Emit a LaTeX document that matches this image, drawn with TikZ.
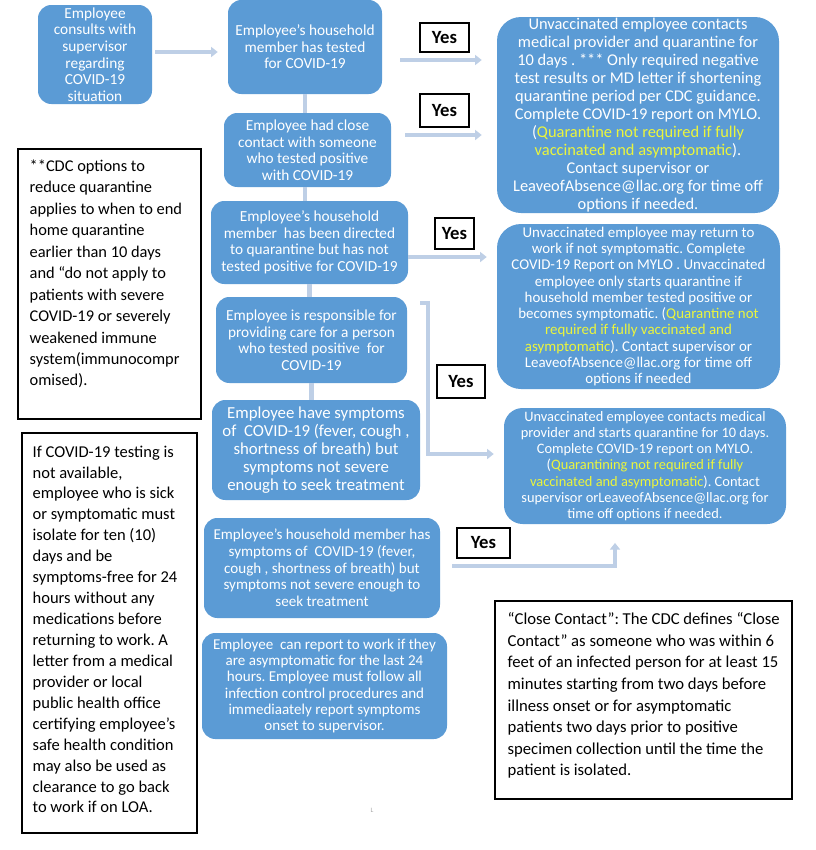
\documentclass[tikz,border=0pt]{standalone}
\usepackage{fontspec}
\setmainfont{Carlito}
\usetikzlibrary{arrows.meta,calc}
\definecolor{boxblue}{RGB}{91,155,213}
\definecolor{connc}{RGB}{190,207,230}
\definecolor{qyellow}{RGB}{235,245,60}
\newcommand{\yl}[1]{\textcolor{qyellow}{#1}}
\frenchspacing
\begin{document}
\begin{tikzpicture}[x=0.75pt,y=-0.75pt,
  sz/.style 2 args={minimum width=#1*0.75pt, minimum height=#2*0.75pt},
  bluebox/.style={fill=boxblue, draw=none, rounded corners=10pt, inner sep=0pt, text=white, align=center, font=\fontsize{11.5}{12.4}\selectfont},
  bigblue/.style={bluebox, rounded corners=18pt},
  yesbox/.style={draw=black, line width=1pt, fill=white, inner sep=0pt, font=\bfseries\fontsize{14}{16}\selectfont},
  notebox/.style={draw=black, line width=0.9pt, inner sep=0pt},
  notetext/.style={anchor=north west, inner sep=0pt, align=left},
  conn/.style={draw=connc, line width=3.6pt},
  arr/.style={conn, -{Triangle[length=5pt,width=7.5pt]}},
  tinymark/.style={text=black!35, inner sep=0pt, font=\fontsize{5}{6}\selectfont}
]
\useasboundingbox (0,0) rectangle (815,850);
\fill[white] (0,0) rectangle (815,850);

% left-column flow boxes
\node[bluebox, sz={114}{99}] (A) at (95,54.5) {Employee\\consults with\\supervisor\\regarding\\COVID-19\\situation};
\node[bluebox, sz={154}{94}] (B) at (305,47) {Employee's household\\member has tested\\for COVID-19};
\node[bluebox, sz={167}{74}] (C) at (307.5,150) {Employee had close\\contact with someone\\who tested positive\\with COVID-19};
\node[bluebox, sz={197}{83}] (D) at (309.5,242.5) {Employee's household\\member\ \ has been directed\\to quarantine but has not\\tested positive for COVID-19};
\node[bluebox, sz={191}{86}] (E) at (311.5,340) {Employee is responsible for\\providing care for a person\\who tested positive\ \ for\\COVID-19};
\node[bluebox, sz={208}{100}, font=\fontsize{12.6}{13.6}\selectfont] (F) at (316,450) {Employee have symptoms\\of\ \ COVID-19 (fever, cough ,\\shortness of breath) but\\symptoms not severe\\enough to seek treatment};
\node[bluebox, sz={236}{100}, font=\fontsize{11.3}{12.5}\selectfont] (G) at (322,568) {Employee's household member has\\symptoms of\ \ COVID-19 (fever,\\cough , shortness of breath) but\\symptoms not severe enough to\\seek treatment};
\node[bluebox, sz={245}{106}, font=\fontsize{11.3}{12.2}\selectfont] (H) at (324.5,686) {Employee\ \ can report to work if they\\are asymptomatic for the last 24\\hours. Employee must follow all\\infection control procedures and\\immediaately report symptoms\\onset to supervisor.};

% right-column outcome boxes
\node[bigblue, sz={282}{196}, font=\fontsize{12.3}{13.5}\selectfont] (R1) at (638,115) {Unvaccinated employee contacts\\medical provider and quarantine for\\10 days . *** Only required negative\\test results or MD letter if shortening\\quarantine period per CDC guidance.\\Complete COVID-19 report on MYLO.\\(\yl{Quarantine not required if fully}\\\yl{vaccinated and asymptomatic}).\\Contact supervisor or\\LeaveofAbsence@llac.org for time off\\options if needed.};
\node[bigblue, sz={283}{165}, font=\fontsize{11.2}{12.2}\selectfont] (R2) at (638.5,306.5) {Unvaccinated employee may return to\\work if not symptomatic. Complete\\COVID-19 Report on MYLO . Unvaccinated\\employee only starts quarantine if\\household member tested positive or\\becomes symptomatic. (\yl{Quarantine not}\\\yl{required if fully vaccinated and}\\\yl{asymptomatic}). Contact supervisor or\\LeaveofAbsence@llac.org for time off\\options if needed};
\node[bigblue, rounded corners=14pt, sz={282}{116}, font=\fontsize{10.8}{12.2}\selectfont] (R3) at (645,466) {Unvaccinated employee contacts medical\\provider and starts quarantine for 10 days.\\Complete COVID-19 report on MYLO.\\(\yl{Quarantining not required if fully}\\\yl{vaccinated and asymptomatic}). Contact\\supervisor orLeaveofAbsence@llac.org for\\time off options if needed.};

% Yes labels
\node[yesbox, sz={49}{29}] (Y1) at (444.5,37.5) {Yes};
\node[yesbox, sz={49}{33}] (Y2) at (444.5,110.5) {Yes};
\node[yesbox, sz={39}{31}] (Y3) at (454.5,233.5) {Yes};
\node[yesbox, sz={48}{33}] (Y4) at (461,381.5) {Yes};
\node[yesbox, sz={53}{30}] (Y5) at (483.5,543) {Yes};

% note boxes
\node[notebox, sz={183}{270}] (N1) at (109.5,284) {};
\node[notetext, font=\fontsize{12.3}{16.1}\selectfont] (N1t) at ([shift={(12,11)}]N1.north west) {**CDC options to\\reduce quarantine\\applies to when to end\\home quarantine\\earlier than 10 days\\and “do not apply to\\patients with severe\\COVID-19 or severely\\weakened immune\\system(immunocompr\\omised).};
\node[notebox, sz={175}{400}] (N2) at (109.5,633) {};
\node[notetext, font=\fontsize{12.4}{15.7}\selectfont] (N2t) at ([shift={(11,13)}]N2.north west) {If COVID-19 testing is\\not available,\\employee who is sick\\or symptomatic must\\isolate for ten (10)\\days and be\\symptoms-free for 24\\hours without any\\medications before\\returning to work. A\\letter from a medical\\provider or local\\public health office\\certifying employee’s\\safe health condition\\may also be used as\\clearance to go back\\to work if on LOA.};
\node[notebox, sz={297}{198}] (N3) at (643.5,700) {};
\node[notetext, font=\fontsize{12.5}{16.2}\selectfont] (N3t) at ([shift={(13,12)}]N3.north west) {“Close Contact”: The CDC defines “Close\\Contact” as someone who was within 6\\feet of an infected person for at least 15\\minutes starting from two days before\\illness onset or for asymptomatic\\patients two days prior to positive\\specimen collection until the time the\\patient is isolated.};

\node[tinymark] (mk) at (372,810) {L};

% helper coordinates
\coordinate (yAB) at (0,52);
\coordinate (yB1) at (0,60);
\coordinate (yC1) at (0,135);
\coordinate (yD2) at (0,257);
\coordinate (e1) at (420,303);
\coordinate (e2) at (428,303);
\coordinate (e3) at (428,454);
\coordinate (g1) at (0,566);
\coordinate (k615) at (615,0);

% connectors
\draw[arr, shorten <=2.25pt, shorten >=7.5pt] (A.east |- yAB) -- (B.west |- yAB);
\draw[conn] (B.south) -- (B.south |- C.north);
\draw[conn] (B.south |- C.south) -- (B.south |- D.north);
\draw[conn] (D.south) -- (D.south |- E.north);
\draw[conn] (E.south) -- (E.south |- F.north);
\draw[arr, shorten <=13.5pt, shorten >=11.25pt] (B.east |- yB1) -- (R1.west |- yB1);
\draw[arr, shorten <=10.5pt, shorten >=11.25pt] (C.east |- yC1) -- (R1.west |- yC1);
\draw[arr, shorten >=7.5pt] (D.east |- yD2) -- (R2.west |- yD2);
\draw[arr, shorten >=7.5pt] (e1) -- (e2) -- (e3) -- (R3.west |- e3);
\draw[arr, shorten <=9pt, shorten >=14pt] (G.east |- g1) -| (k615 |- R3.south);
\end{tikzpicture}
\end{document}
